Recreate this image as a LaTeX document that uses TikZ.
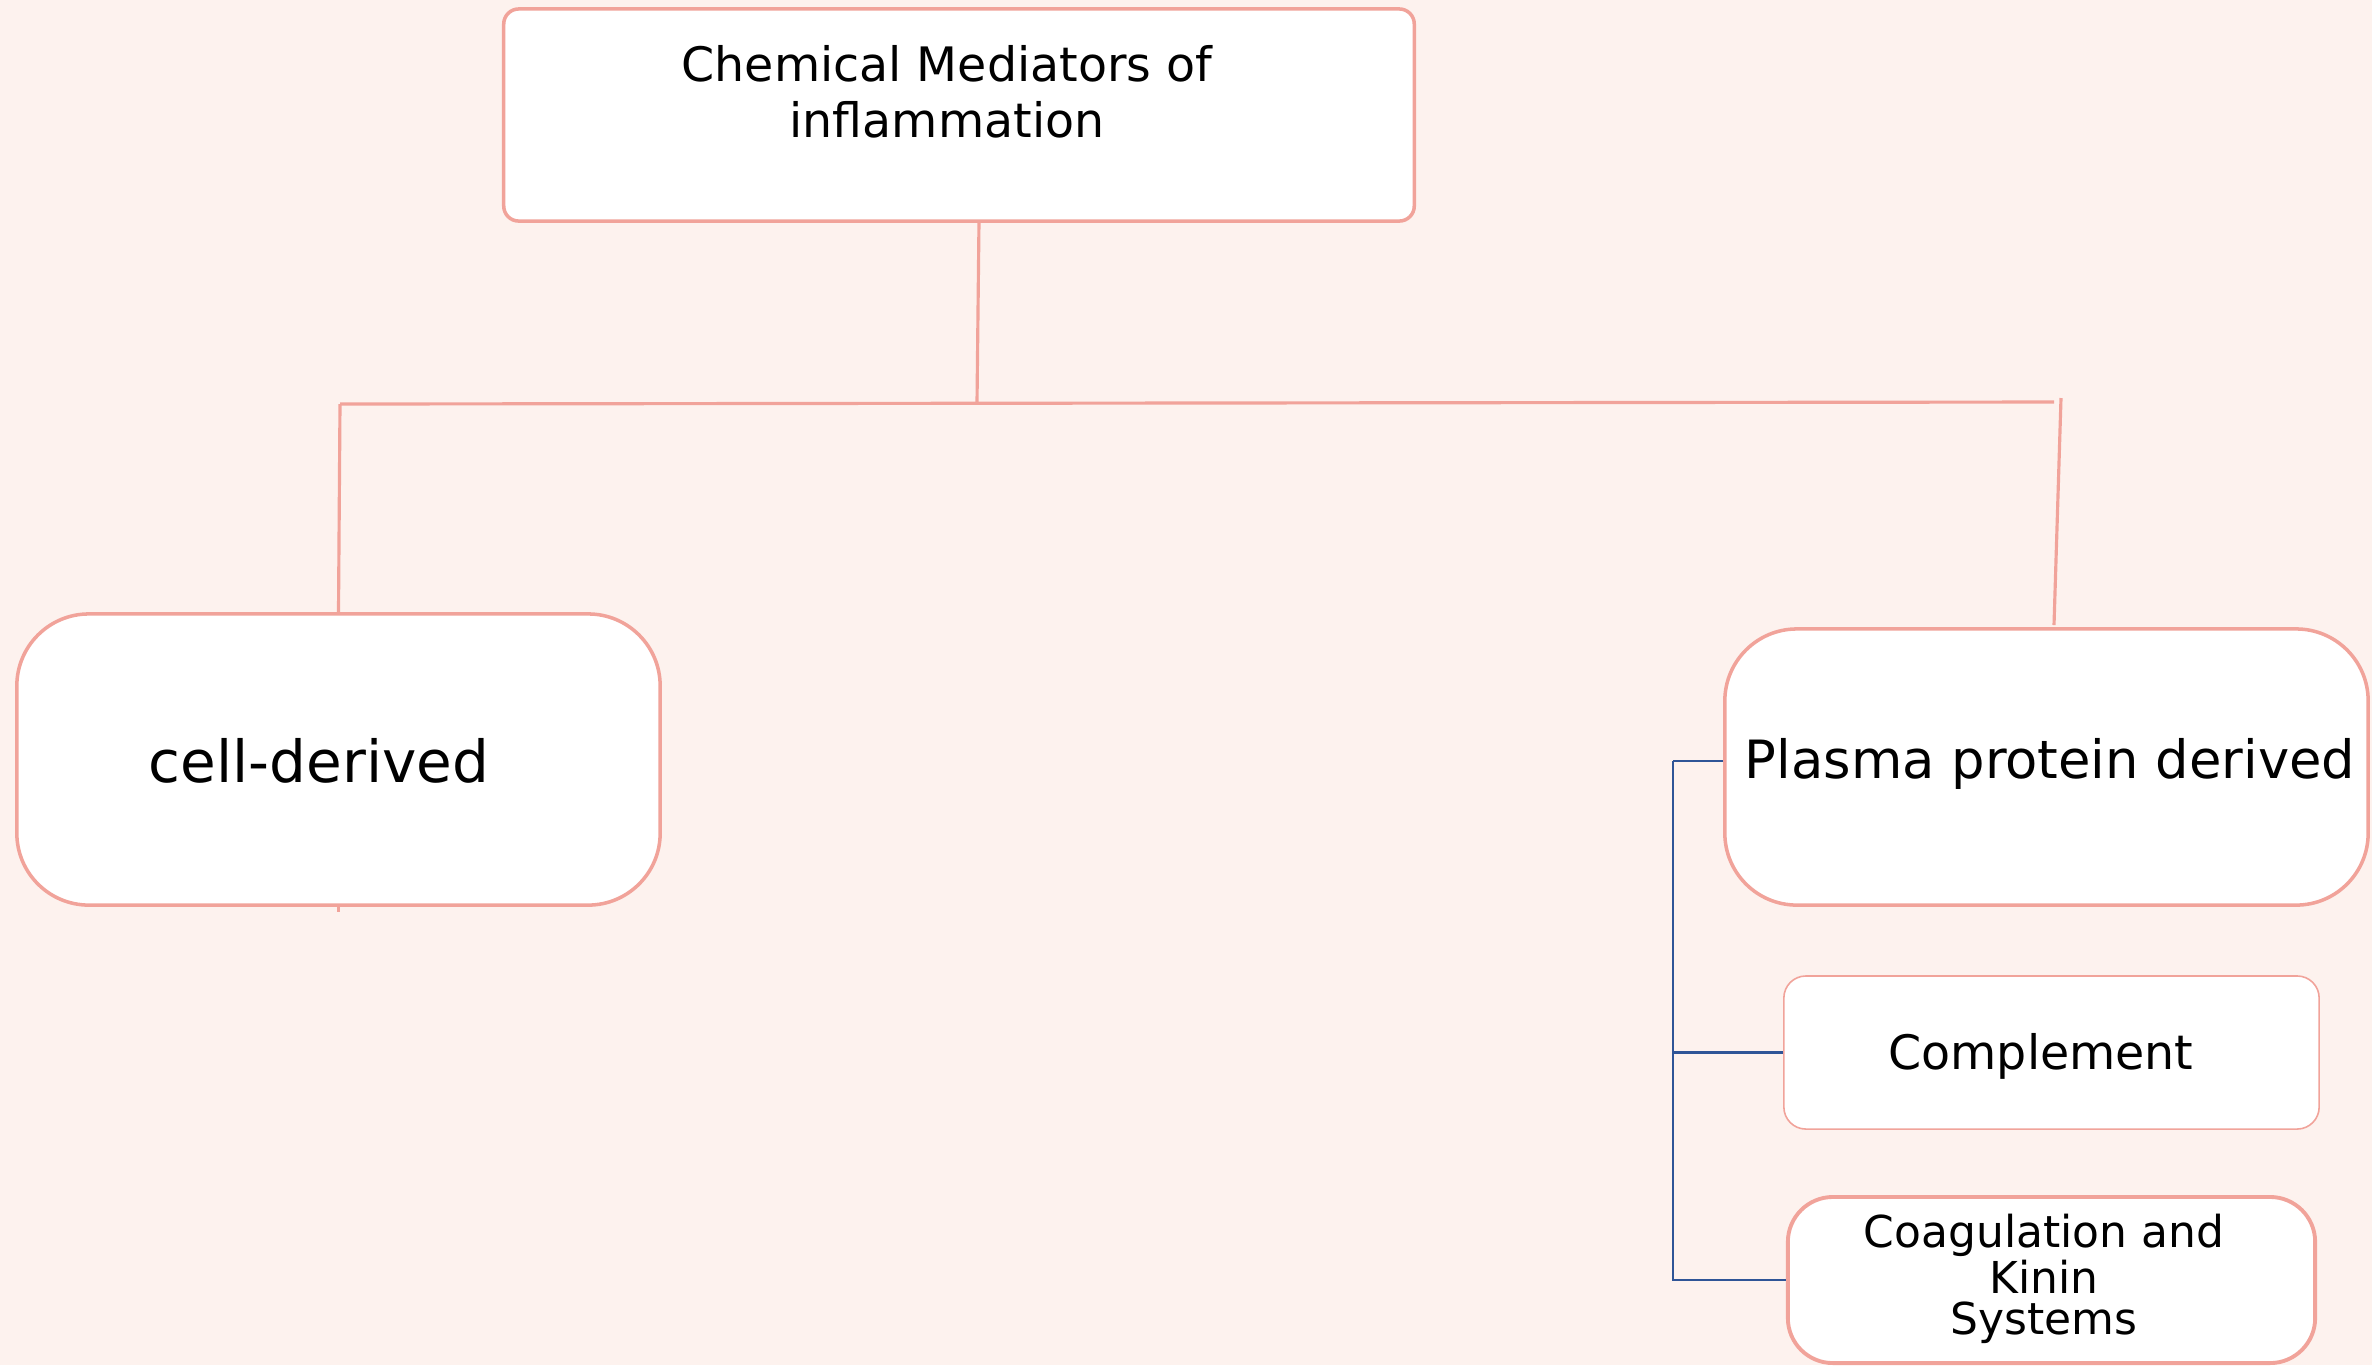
\documentclass[tikz,border=0pt]{standalone}
\usepackage{fontspec}
\setmainfont{DejaVu Sans}
\usetikzlibrary{calc}
\definecolor{bgc}{RGB}{253,242,238}
\definecolor{salmon}{RGB}{241,163,154}
\definecolor{navy}{RGB}{47,85,151}
\tikzset{
  box/.style={draw=salmon, fill=white, inner sep=0pt, align=center},
  lbl/.style={inner sep=0pt, align=center},
  link/.style={draw=salmon, line width=0.9pt},
  bluelink/.style={draw=navy, line width=0.6pt},
}
\begin{document}
\begin{tikzpicture}[x=0.01cm, y=-0.01cm]
\fill[bgc] (0,0) rectangle (2372,1365);
\useasboundingbox (0,0) rectangle (2372,1365);

% top box
\node[box, line width=1pt, rounded corners=0.15cm, minimum width=9.10cm, minimum height=2.12cm] (top) at (959,115) {};
\node[lbl, font=\fontsize{13.5}{16}\selectfont] (toptext) at (947,92) {Chemical Mediators of\\inflammation};

% cell-derived
\node[box, line width=1pt, rounded corners=0.72cm, minimum width=6.43cm, minimum height=2.91cm] (cell) at (338.5,759.5) {};
\node[lbl, font=\fontsize{16.5}{20}\selectfont] (celltext) at (319,761) {cell-derived};

% plasma
\node[box, line width=1pt, rounded corners=0.72cm, minimum width=6.43cm, minimum height=2.76cm] (plasma) at (2046.5,767) {};
\node[lbl, font=\fontsize{15}{18}\selectfont] (plasmatext) at (2050,764) {Plasma protein derived};

% complement
\node[box, line width=0.45pt, rounded corners=0.22cm, minimum width=5.35cm, minimum height=1.53cm] (compl) at (2051.5,1052.5) {};
\node[lbl, font=\fontsize{13.5}{16}\selectfont] (compltext) at (2041,1056) {Complement};

% coagulation
\node[box, line width=1.1pt, rounded corners=0.45cm, minimum width=5.27cm, minimum height=1.66cm] (coag) at (2051.5,1280) {};
\node[lbl, font=\fontsize{12.5}{11.8}\selectfont] (coagtext) at (2044,1279) {Coagulation and\\Kinin\\Systems};

% pink connectors
\coordinate (ts) at (979,221);
\coordinate (jm) at (977,403);
\coordinate (jl) at (340,404);
\coordinate (jr) at (2054,402);
\coordinate (rt) at (2061,398);
\coordinate (rb) at (2054,625);
\draw[link] (ts) -- (jm);
\draw[link] (jl) -- (jr);
\draw[link] (jl) -- (cell.north);
\draw[link] (rt) -- (rb);
\draw[link] (cell.south) -- ++(0,5);

% blue connectors
\coordinate (pw) at ($(plasma.west)+(0,-6)$);
\draw[bluelink] (pw) -- ++(-50,0) coordinate (bx);
\draw[bluelink] (bx) |- (compl.west);
\draw[bluelink] (bx) |- (coag.west);
\end{tikzpicture}
\end{document}
